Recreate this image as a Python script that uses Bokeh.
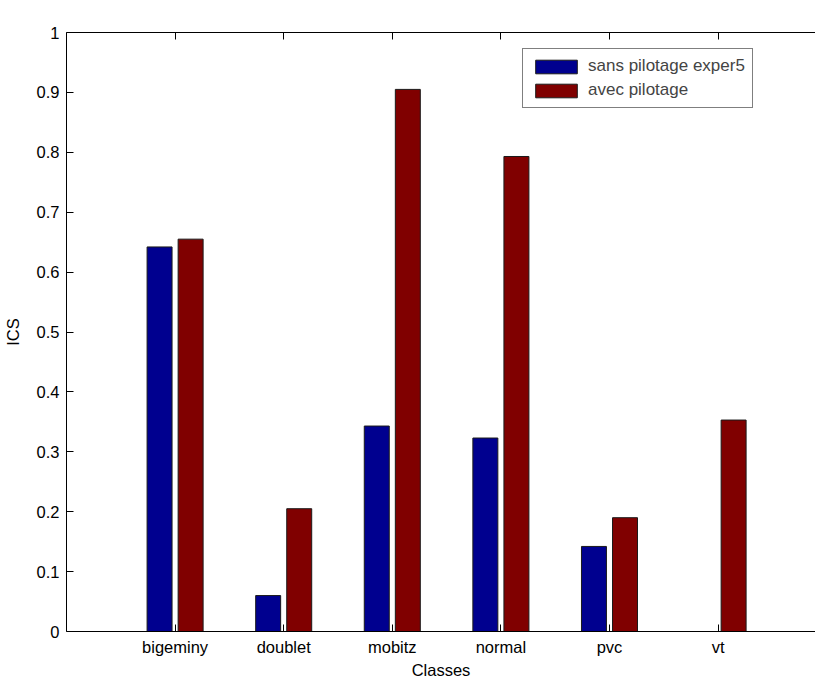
from bokeh.plotting import figure
from bokeh.models import (Range1d, FixedTicker, LinearAxis, NumeralTickFormatter,
                          ColumnDataSource, Legend, LegendItem, Label)
from bokeh.transform import dodge
from bokeh.embed import file_html
from bokeh.resources import INLINE

categories = ["bigeminy", "doublet", "mobitz", "normal", "pvc", "vt"]
sans_pilotage = [0.642, 0.060, 0.343, 0.323, 0.142, 0.0]
avec_pilotage = [0.655, 0.205, 0.905, 0.793, 0.190, 0.353]
y_ticks = [0, 0.1, 0.2, 0.3, 0.4, 0.5, 0.6, 0.7, 0.8, 0.9, 1.0]

FONT = "Liberation Sans"
FS = "16.5px"

positions = list(range(1, len(categories) + 1))
src = ColumnDataSource(dict(x=positions, a=sans_pilotage, b=avec_pilotage))

x_start, x_end = 0, 6.897
p = figure(width=815, height=681, output_backend="svg", toolbar_location=None,
           x_range=Range1d(x_start, x_end), y_range=Range1d(0, 1),
           min_border_left=66, min_border_right=0, min_border_top=32, min_border_bottom=49)
p.outline_line_color = None
p.xgrid.visible = False
p.ygrid.visible = False

r1 = p.vbar(x=dodge("x", -0.143, range=p.x_range), top="a", width=0.23, source=src,
            fill_color="#00008F", line_color="#1a1a1a", line_width=1)
r2 = p.vbar(x=dodge("x", 0.143, range=p.x_range), top="b", width=0.23, source=src,
            fill_color="#800000", line_color="#1a1a1a", line_width=1)

for ax in [p.xaxis[0], p.yaxis[0]]:
    ax.major_tick_in = 7
    ax.major_tick_out = 0
    ax.minor_tick_in = 0
    ax.minor_tick_out = 0
    ax.axis_line_color = "black"
    ax.major_tick_line_color = "black"
    ax.major_label_text_font = FONT
    ax.major_label_text_font_size = FS
    ax.major_label_text_color = "black"
    ax.axis_label_text_font = FONT
    ax.axis_label_text_font_size = FS
    ax.axis_label_text_font_style = "normal"
    ax.axis_label_text_color = "black"

p.xaxis.ticker = FixedTicker(ticks=positions)
p.xaxis.major_label_overrides = {i: c for i, c in zip(positions, categories)}
p.xaxis.axis_label = "Classes"
p.xaxis.major_label_standoff = 6
p.xaxis.axis_label_standoff = 2

p.yaxis.ticker = FixedTicker(ticks=y_ticks)
p.yaxis.formatter = NumeralTickFormatter(format="0.[0]")
p.yaxis.axis_label = "ICS"
p.yaxis.major_label_standoff = 7
p.yaxis.axis_label_standoff = 12

top = LinearAxis(ticker=FixedTicker(ticks=positions), major_tick_in=7, major_tick_out=0,
                 minor_tick_in=0, minor_tick_out=0,
                 major_label_overrides={i: "" for i in positions},
                 major_label_standoff=0, axis_line_color="black",
                 major_tick_line_color="black")
p.add_layout(top, "above")

legend = Legend(items=[LegendItem(label="sans pilotage exper5", renderers=[r1]),
                       LegendItem(label="avec pilotage", renderers=[r2])],
                location=(456, 523), margin=0, padding=7, spacing=4,
                glyph_width=52, glyph_height=17, label_height=17, label_standoff=6,
                label_text_font=FONT, label_text_font_size="17px",
                border_line_color="black", border_line_width=1,
                background_fill_color="white", background_fill_alpha=1)
p.add_layout(legend, "center")

title = Label(x=(x_start + x_end) / 2 - 0.03, y=1.03, text="Indice Critique de succes",
              text_align="center", text_baseline="middle",
              text_font=FONT, text_font_size=FS, text_color="black")
p.add_layout(title)

open("out.html", "w").write(file_html(p, INLINE))
